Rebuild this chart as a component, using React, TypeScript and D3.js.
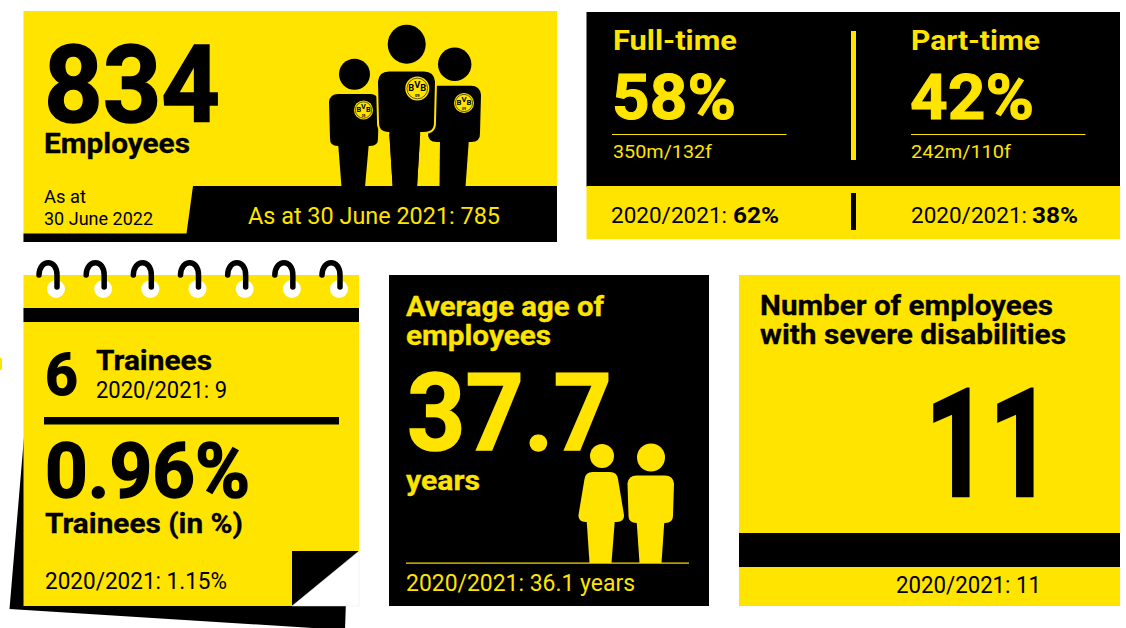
import React from "react";
import * as d3 from "d3";

const YELLOW = "#ffe400";
const BLACK = "#000000";
const FONT = "Roboto, 'Noto Sans', sans-serif";

// Headline figures
const headcount = { current: "834", label: "Employees", dateLines: ["As at", "30 June 2022"], prior: "As at 30 June 2021: 785" };
const workTypes = ["Full-time", "Part-time"];
const workShares = ["58%", "42%"];
const workSplits = ["350m/132f", "242m/110f"];
const priorLabel = "2020/2021: ";
const priorShares = ["62%", "38%"];
const trainees = { count: "6", label: "Trainees", prior: "2020/2021: 9", share: "0.96%", shareLabel: "Trainees (in %)", sharePrior: "2020/2021: 1.15%" };
const ageTitle = ["Average age of", "employees"];
const age = { value: "37.7", unit: "years", prior: "2020/2021: 36.1 years" };
const disabilityTitle = ["Number of employees", "with severe disabilities"];
const disability = { value: "11", prior: "2020/2021: 11" };
const ringIds = [0, 1, 2, 3, 4, 5, 6];

type TextProps = { x: number; y: number; size: number; w: number; fill?: string; bold?: boolean; heavy?: number; children: string };

// Text fitted to an exact advance width; heavy thickens the strokes of display numerals
function T({ x, y, size, w, fill = BLACK, bold = false, heavy = 0, children }: TextProps) {
  return (
    <text
      x={x}
      y={y}
      fontSize={size}
      fontWeight={bold ? 700 : 400}
      fontFamily={FONT}
      fill={fill}
      stroke={heavy ? fill : "none"}
      strokeWidth={heavy}
      strokeLinejoin="miter"
      textLength={w}
      lengthAdjust="spacingAndGlyphs"
    >
      {children}
    </text>
  );
}

function roundedBody(x0: number, x1: number, y0: number, y1: number, r: number, topInset = 0) {
  const p = d3.path();
  p.moveTo(x0 + topInset + r, y0);
  p.lineTo(x1 - topInset - r, y0);
  p.quadraticCurveTo(x1 - topInset, y0, x1 - topInset + 1, y0 + r);
  p.lineTo(x1, y1 - r);
  p.quadraticCurveTo(x1 + 0.5, y1, x1 - r, y1);
  p.lineTo(x0 + r, y1);
  p.quadraticCurveTo(x0 - 0.5, y1, x0, y1 - r);
  p.lineTo(x0 + topInset - 1, y0 + r);
  p.quadraticCurveTo(x0 + topInset, y0, x0 + topInset + r, y0);
  p.closePath();
  return p.toString();
}

function poly(points: [number, number][]) {
  return (d3.line()(points) ?? "") + "Z";
}

type FigureProps = {
  head: [number, number, number, number];
  body: [number, number, number, number, number, number?];
  legs: [number, number, number, number, number];
  fill: string;
  outline?: string;
};

// Pictogram person: head, rounded torso and tapered legs
function Figure({ head, body, legs, fill, outline }: FigureProps) {
  const [tx0, tx1, bx0, bx1, ly] = legs;
  const [x0, x1, y0, y1, r, inset] = body;
  return (
    <g fill={fill}>
      <ellipse cx={head[0]} cy={head[1]} rx={head[2]} ry={head[3]} />
      <path d={poly([[tx0, y1 - 4], [tx1, y1 - 4], [bx1, ly], [bx0, ly]])} stroke={outline} strokeWidth={outline ? 2 : 0} />
      <path d={roundedBody(x0, x1, y0, y1, r, inset ?? 0)} stroke={outline} strokeWidth={outline ? 2 : 0} />
      {outline ? <path d={poly([[tx0 + 1, y1 - 6], [tx1 - 1, y1 - 6], [bx1 - 1, ly], [bx0 + 1, ly]])} /> : null}
    </g>
  );
}

// Club crest worn on the shirts
function Badge({ cx, cy, r }: { cx: number; cy: number; r: number }) {
  const size = r * 0.78;
  return (
    <g>
      <circle cx={cx} cy={cy} r={r} fill={YELLOW} />
      <circle cx={cx} cy={cy} r={r * 0.86} fill="none" stroke={BLACK} strokeWidth={0.6} />
      <text x={cx} y={cy + r * 0.2} textAnchor="middle" fontFamily={FONT} fontWeight={700} fontSize={size} fill={BLACK}>
        <tspan>B</tspan>
        <tspan dy={-r * 0.28}>V</tspan>
        <tspan dy={r * 0.28}>B</tspan>
      </text>
      <text x={cx} y={cy + r * 0.74} textAnchor="middle" fontFamily={FONT} fontWeight={700} fontSize={r * 0.34} fill={BLACK}>09</text>
    </g>
  );
}

function Spiral({ x }: { x: number }) {
  const p = d3.path();
  p.moveTo(x - 17, 275);
  p.bezierCurveTo(x - 16.5, 258.5, x + 1, 258.5, x + 1, 275);
  p.lineTo(x + 1, 287);
  return <path d={p.toString()} fill="none" stroke={BLACK} strokeWidth={5.5} strokeLinecap="round" />;
}

export default function App() {
  const ringX = d3.scalePoint<number>().domain(ringIds).range([56, 339]);
  const columnX = d3.scalePoint<number>().domain([0, 1]).range([613, 911]);
  const shareW = [122, 122];
  const typeW = [124, 129];
  const splitW = [99, 100];
  const priorInset = [-2, 0];
  const shareInset = [120, 121];
  const ruleInset = [-1, 0];

  return (
    <svg width={1126} height={628} viewBox="0 0 1126 628" style={{ position: "absolute", left: 0, top: 0, background: "#fff" }}>
      {/* Total headcount card */}
      <rect x={23.5} y={11} width={533.5} height={231} fill={YELLOW} />
      <Figure head={[354.5, 74.3, 15.5, 15.5]} body={[330, 378, 94, 146, 8]} legs={[338, 369, 341.5, 365, 187]} fill={BLACK} />
      <Figure head={[454.7, 64.3, 16.7, 16.7]} body={[428, 480, 85.7, 142, 9]} legs={[440, 469, 439.5, 465.5, 187]} fill={BLACK} />
      <Figure head={[406.7, 44.3, 19, 19.5]} body={[378, 435, 70.5, 133, 11]} legs={[388, 421.5, 391.7, 418, 187]} fill={BLACK} outline={YELLOW} />
      <Badge cx={417.3} cy={88.5} r={12} />
      <Badge cx={363.5} cy={110} r={9.5} />
      <Badge cx={464} cy={103} r={10} />
      <path d={poly([[193, 186], [557, 186], [557, 242], [23.5, 242], [23.5, 233.5], [186.5, 233.5]])} fill={BLACK} />
      <T x={44} y={122} size={107} w={176} bold heavy={1.5}>{headcount.current}</T>
      <T x={44} y={153} size={28} w={146} bold heavy={0.3}>{headcount.label}</T>
      <T x={44} y={203} size={18} w={42}>{headcount.dateLines[0]}</T>
      <T x={44} y={225} size={18} w={109}>{headcount.dateLines[1]}</T>
      <T x={248} y={224} size={24} w={252} fill={YELLOW}>{headcount.prior}</T>

      {/* Full-time and part-time card */}
      <rect x={586.5} y={12} width={533.5} height={175} fill={BLACK} />
      <rect x={586.5} y={186} width={533.5} height={53} fill={YELLOW} />
      <rect x={851} y={31} width={5} height={129} fill={YELLOW} />
      <rect x={851} y={193} width={5} height={37} fill={BLACK} />
      {workTypes.map((name, i) => {
        const x = columnX(i)!;
        return (
          <g key={name}>
            <T x={x} y={50} size={27} w={typeW[i]} fill={YELLOW} bold>{name}</T>
            <T x={x - 1} y={119} size={63} w={shareW[i] + 2} fill={YELLOW} bold heavy={1}>{workShares[i]}</T>
            <rect x={x + ruleInset[i]} y={134} width={174.5} height={1} fill={YELLOW} />
            <T x={x} y={158} size={19} w={splitW[i]} fill={YELLOW}>{workSplits[i]}</T>
            <T x={x + priorInset[i]} y={223} size={22} w={116} fill={BLACK}>{priorLabel}</T>
            <T x={x + shareInset[i]} y={223} size={22} w={46} bold>{priorShares[i]}</T>
          </g>
        );
      })}

      {/* Trainee notepad */}
      <rect x={0} y={358} width={2} height={12} fill={YELLOW} />
      <path d={poly([[24, 437], [9.5, 609], [345, 630], [346, 600], [24, 600]])} fill={BLACK} />
      <rect x={23.5} y={275} width={335.5} height={331} fill={YELLOW} />
      <rect x={23.5} y={308} width={335.5} height={14} fill={BLACK} />
      {ringIds.map((id) => (
        <circle key={id} cx={ringX(id)!} cy={289} r={9} fill="#ffffff" />
      ))}
      {ringIds.map((id) => (
        <Spiral key={id} x={ringX(id)!} />
      ))}
      <T x={45} y={395} size={60} w={33} bold heavy={1.2}>{trainees.count}</T>
      <T x={96} y={370} size={28} w={116} bold heavy={0.3}>{trainees.label}</T>
      <T x={96} y={398} size={23} w={131}>{trainees.prior}</T>
      <rect x={44} y={417} width={295} height={7.5} fill={BLACK} />
      <T x={45} y={497} size={76} w={205} bold heavy={1.5}>{trainees.share}</T>
      <T x={45} y={533} size={28} w={198} bold heavy={0.3}>{trainees.shareLabel}</T>
      <T x={45} y={589} size={23} w={182}>{trainees.sharePrior}</T>
      <rect x={292} y={551} width={67} height={55} fill={BLACK} />
      <path d={poly([[292, 606], [359, 551], [359, 606]])} fill="#ffffff" stroke="#e4e4e4" strokeWidth={0.5} />

      {/* Average age card */}
      <rect x={389} y={275} width={320} height={331} fill={BLACK} />
      <T x={406} y={315.5} size={28} w={198} fill={YELLOW} bold heavy={0.3}>{ageTitle[0]}</T>
      <T x={406} y={345} size={28} w={145} fill={YELLOW} bold heavy={0.3}>{ageTitle[1]}</T>
      <T x={407} y={450} size={107} w={205} fill={YELLOW} bold heavy={1.5}>{age.value}</T>
      <T x={406} y={490} size={28} w={74} fill={YELLOW} bold heavy={0.3}>{age.unit}</T>
      <Figure head={[602, 456, 12, 12]} body={[578.5, 624, 472, 522, 7, 7]} legs={[586.5, 615, 589.5, 611.5, 563]} fill={YELLOW} />
      <Figure head={[651, 457.5, 14, 14]} body={[628.5, 673, 475.5, 523, 8]} legs={[636.5, 664.5, 639.5, 661.5, 563]} fill={YELLOW} />
      <rect x={406} y={562.5} width={283} height={1.2} fill={YELLOW} />
      <T x={406} y={591} size={23} w={229} fill={YELLOW}>{age.prior}</T>

      {/* Severe disabilities card */}
      <rect x={739} y={275} width={381} height={331} fill={YELLOW} />
      <T x={760} y={315} size={28} w={293} bold heavy={0.3}>{disabilityTitle[0]}</T>
      <T x={760} y={344} size={28} w={306} bold heavy={0.3}>{disabilityTitle[1]}</T>
      <T x={925} y={496} size={150} w={128} bold heavy={2.5}>{disability.value}</T>
      <rect x={739} y={533} width={381} height={34} fill={BLACK} />
      <T x={896} y={593} size={23} w={145}>{disability.prior}</T>
    </svg>
  );
}
